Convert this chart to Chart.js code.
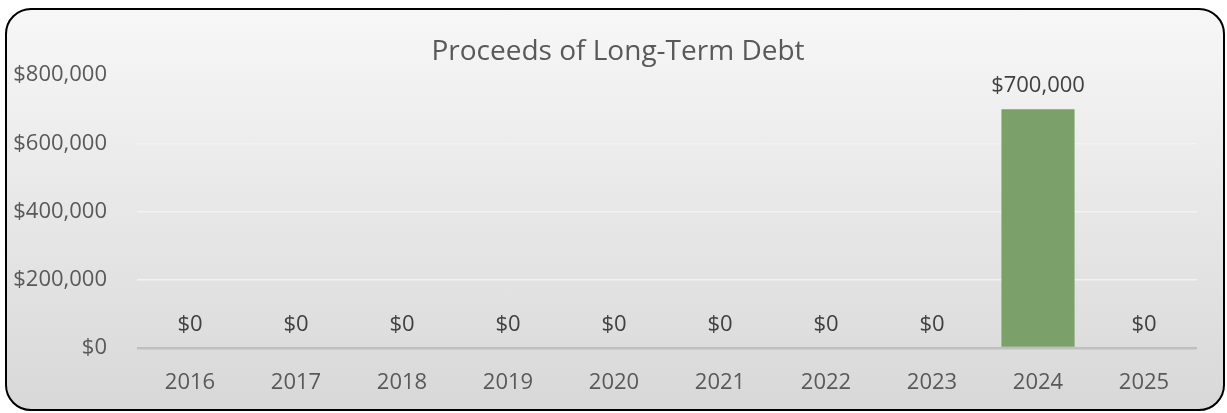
<!DOCTYPE html>
<html>
<head>
<meta charset="utf-8">
<script src="https://cdn.jsdelivr.net/npm/chart.js@4"></script>
<style>
  html, body { margin: 0; padding: 0; background: #fff; }
  #wrap {
    position: absolute; left: 0; top: 0; width: 1227px; height: 413px;
  }
  #panel {
    position: absolute; left: 5px; top: 8px; width: 1216px; height: 399px;
    border: 2px solid #000; border-radius: 26px;
    background: linear-gradient(#f7f7f7, #d8d8d8);
  }
  canvas { position: absolute; left: 0; top: 0; }
</style>
</head>
<body>
<div id="wrap">
  <div id="panel"></div>
  <canvas id="myChart" width="1227" height="413"></canvas>
</div>
<script>
const years = ['2016', '2017', '2018', '2019', '2020', '2021', '2022', '2023', '2024', '2025'];
const proceeds = [0, 0, 0, 0, 0, 0, 0, 0, 700000, 0];
const yTicks = [0, 200000, 400000, 600000, 800000];
const chartTitle = 'Proceeds of Long-Term Debt';

const FONT = "'Open Sans', sans-serif";
const money = v => '$' + v.toLocaleString('en-US');

// title (centred over the whole panel) and value labels above each bar
const overlay = {
    id: 'overlay',
    afterDatasetsDraw(chart) {
        const c = chart.ctx;
        const meta = chart.getDatasetMeta(0);
        c.save();
        c.textAlign = 'center';
        c.textBaseline = 'middle';

        c.font = '28px ' + FONT;
        c.fillStyle = '#595959';
        c.fillText(chartTitle, 618, 52);

        c.font = '22px ' + FONT;
        c.fillStyle = '#404040';
        meta.data.forEach((bar, i) => {
            c.fillText(money(proceeds[i]), bar.x, bar.y - 23);
        });
        c.restore();
    }
};

new Chart(document.getElementById('myChart'), {
    type: 'bar',
    data: {
        labels: years,
        datasets: [{
            data: proceeds,
            backgroundColor: '#7ca069',
            barPercentage: 0.69,
            categoryPercentage: 1
        }]
    },
    options: {
        responsive: false,
        animation: false,
        layout: { padding: { left: 0, right: 30, top: 75, bottom: 21 } },
        plugins: {
            legend: { display: false },
            tooltip: { enabled: false },
            title: { display: false }
        },
        scales: {
            x: {
                afterFit: s => { s.height = 44; },
                grid: { display: false, drawTicks: false },
                border: { display: false },
                ticks: {
                    color: '#595959',
                    font: { family: FONT, size: 22 },
                    padding: 22
                }
            },
            y: {
                min: 0,
                max: 800000,
                afterFit: s => { s.width = 137; },
                afterBuildTicks: s => { s.ticks = yTicks.map(v => ({ value: v })); },
                border: { display: false },
                grid: {
                    drawTicks: false,
                    color: ctx => ctx.tick.value === 0 ? '#bfbfbf' : '#f2f2f2',
                    lineWidth: ctx => ctx.tick.value === 0 ? 2.5 : 1.5
                },
                ticks: {
                    color: '#595959',
                    font: { family: FONT, size: 22 },
                    padding: 30,
                    callback: v => money(v)
                }
            }
        }
    },
    plugins: [overlay]
});
</script>
</body>
</html>
